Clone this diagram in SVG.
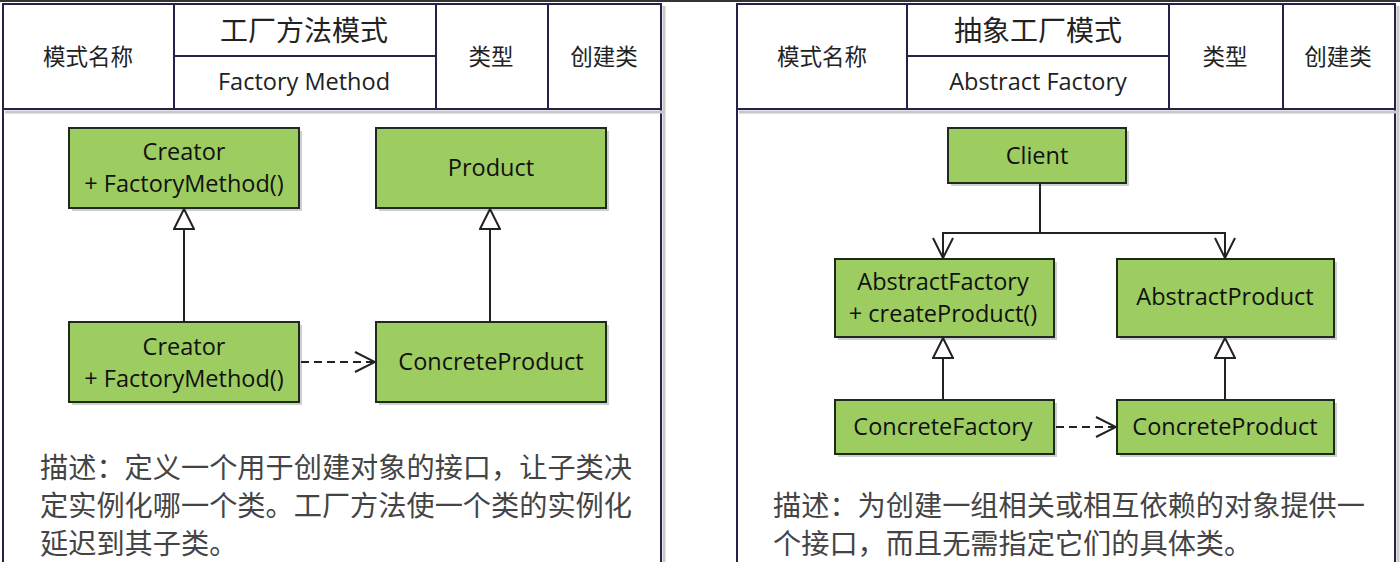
<svg xmlns="http://www.w3.org/2000/svg" width="1400" height="562" viewBox="0 0 1400 562">
<defs>
<style>
.frame{fill:#fff;stroke:#22224a;stroke-width:2}
.shadowline{stroke:#c8c8c8;stroke-width:3;fill:none}
.hdr{font-family:"Noto Sans CJK SC","Noto Sans",sans-serif;font-size:22.5px;fill:#222;text-anchor:middle}
.title{font-family:"Noto Sans CJK SC","Noto Sans",sans-serif;font-size:28px;fill:#222;text-anchor:middle}
.en{font-family:"Open Sans","Noto Sans",sans-serif;font-size:23.5px;fill:#222;text-anchor:middle}
.node rect.box{fill:#9dcc61;stroke:#1e2a1e;stroke-width:2}
.node rect.sh{fill:#cfcfcf}
.node text{font-family:"Open Sans","Noto Sans",sans-serif;font-size:23.5px;fill:#111;text-anchor:middle}
.desc{font-family:"Noto Sans CJK SC","Noto Sans",sans-serif;font-size:28.2px;fill:#444}
.line{stroke:#222;stroke-width:2;fill:none}
.dash{stroke:#222;stroke-width:2;fill:none;stroke-dasharray:8 5}
</style>
<marker id="tri" viewBox="0 0 22 22" refX="21" refY="11" markerWidth="22" markerHeight="22" markerUnits="userSpaceOnUse" orient="auto">
<path d="M1,1 L21,11 L1,21 Z" fill="#fff" stroke="#222" stroke-width="2"/>
</marker>
<marker id="open" viewBox="0 0 24 24" refX="22" refY="12" markerWidth="24" markerHeight="24" markerUnits="userSpaceOnUse" orient="auto">
<path d="M2,2 L22,12 L2,22" fill="none" stroke="#222" stroke-width="2"/>
</marker>
</defs>
<rect x="0" y="0" width="1400" height="562" fill="#fff"/>
<rect x="0" y="0" width="1400" height="2" fill="#333"/>

<!-- Left panel -->
<g id="panel-left">
<path class="shadowline" d="M664,6 V562"/>
<rect class="frame" x="3" y="4" width="658" height="600"/>
<path class="shadowline" d="M5,112 H664"/>
<rect class="frame" x="3" y="4" width="171" height="105"/>
<rect class="frame" x="174" y="4" width="262" height="52"/>
<rect class="frame" x="174" y="56" width="262" height="53"/>
<rect class="frame" x="436" y="4" width="112" height="105"/>
<rect class="frame" x="548" y="4" width="113" height="105"/>
<text class="hdr" x="88" y="65">模式名称</text>
<text class="title" x="304" y="41">工厂方法模式</text>
<text class="en" x="304" y="90">Factory Method</text>
<text class="hdr" x="491" y="65">类型</text>
<text class="hdr" x="604" y="65">创建类</text>
<text class="desc" x="40" y="478">描述：定义一个用于创建对象的接口，让子类决</text>
<text class="desc" x="40" y="516">定实例化哪一个类。工厂方法使一个类的实例化</text>
<text class="desc" x="40" y="554">延迟到其子类。</text>
</g>

<!-- Right panel -->
<g id="panel-right">
<path class="shadowline" d="M1398,6 V562"/>
<rect class="frame" x="737" y="4" width="658" height="600"/>
<path class="shadowline" d="M739,112 H1398"/>
<rect class="frame" x="737" y="4" width="170" height="105"/>
<rect class="frame" x="907" y="4" width="262" height="52"/>
<rect class="frame" x="907" y="56" width="262" height="53"/>
<rect class="frame" x="1169" y="4" width="114" height="105"/>
<rect class="frame" x="1283" y="4" width="112" height="105"/>
<text class="hdr" x="822" y="65">模式名称</text>
<text class="title" x="1038" y="41">抽象工厂模式</text>
<text class="en" x="1038" y="90">Abstract Factory</text>
<text class="hdr" x="1225" y="65">类型</text>
<text class="hdr" x="1338" y="65">创建类</text>
<text class="desc" x="773" y="516">描述：为创建一组相关或相互依赖的对象提供一</text>
<text class="desc" x="773" y="554">个接口，而且无需指定它们的具体类。</text>
</g>

<!-- Left nodes -->
<g id="creator" class="node">
<rect class="sh" x="72" y="131" width="230" height="80"/>
<rect class="box" x="69" y="128" width="230" height="80"/>
<text x="184" y="160">Creator</text>
<text x="184" y="192">+ FactoryMethod()</text>
</g>
<g id="product" class="node">
<rect class="sh" x="379" y="131" width="230" height="80"/>
<rect class="box" x="376" y="128" width="230" height="80"/>
<text x="491" y="176">Product</text>
</g>
<g id="concrete-creator" class="node">
<rect class="sh" x="72" y="325" width="230" height="80"/>
<rect class="box" x="69" y="322" width="230" height="80"/>
<text x="184" y="355">Creator</text>
<text x="184" y="387">+ FactoryMethod()</text>
</g>
<g id="concrete-product-left" class="node">
<rect class="sh" x="379" y="325" width="230" height="80"/>
<rect class="box" x="376" y="322" width="230" height="80"/>
<text x="491" y="370">ConcreteProduct</text>
</g>

<!-- Right nodes -->
<g id="client" class="node">
<rect class="sh" x="951" y="131" width="178" height="55"/>
<rect class="box" x="948" y="128" width="178" height="55"/>
<text x="1037" y="164">Client</text>
</g>
<g id="abstract-factory" class="node">
<rect class="sh" x="838" y="262" width="219" height="78"/>
<rect class="box" x="835" y="259" width="219" height="78"/>
<text x="943" y="290">AbstractFactory</text>
<text x="943" y="322">+ createProduct()</text>
</g>
<g id="abstract-product" class="node">
<rect class="sh" x="1120" y="262" width="217" height="78"/>
<rect class="box" x="1117" y="259" width="217" height="78"/>
<text x="1225" y="305">AbstractProduct</text>
</g>
<g id="concrete-factory" class="node">
<rect class="sh" x="838" y="403" width="219" height="54"/>
<rect class="box" x="835" y="400" width="219" height="54"/>
<text x="943" y="435">ConcreteFactory</text>
</g>
<g id="concrete-product-right" class="node">
<rect class="sh" x="1120" y="403" width="217" height="54"/>
<rect class="box" x="1117" y="400" width="217" height="54"/>
<text x="1225" y="435">ConcreteProduct</text>
</g>

<!-- Connectors -->
<g id="connectors">
<path class="line" d="M184,322 V209" marker-end="url(#tri)"/>
<path class="line" d="M490,322 V209" marker-end="url(#tri)"/>
<path class="dash" d="M301,362 H375" marker-end="url(#open)"/>
<path class="line" d="M1040,183 V233 H943 V258" marker-end="url(#open)"/>
<path class="line" d="M1040,233 H1225 V258" marker-end="url(#open)"/>
<path class="line" d="M943,400 V338" marker-end="url(#tri)"/>
<path class="line" d="M1225,400 V338" marker-end="url(#tri)"/>
<path class="dash" d="M1056,427 H1116" marker-end="url(#open)"/>
</g>
</svg>
